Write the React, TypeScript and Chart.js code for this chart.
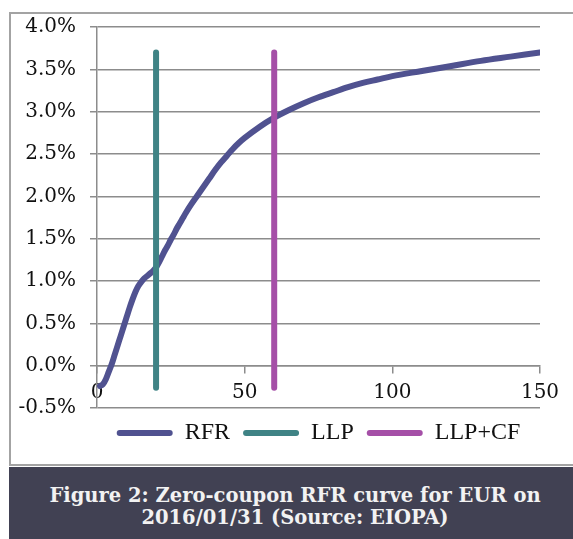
import { useEffect, useRef } from "react";
import { Chart, registerables } from "chart.js";

Chart.register(...registerables);

// maturity in years / zero-coupon rate in %
const rfrMaturities = [
  1, 2, 3, 4, 5, 6, 7, 8, 9, 10, 11, 12, 13, 14, 15, 16, 17, 18, 19, 20, 21, 22,
  23, 24, 25, 26, 27, 28, 29, 30, 32, 34, 36, 38, 40, 42, 44, 46, 48, 50, 55, 60,
  65, 70, 75, 80, 85, 90, 95, 100, 110, 120, 130, 140, 150,
];
const rfrRates = [
  -0.24, -0.22, -0.16, -0.07, 0.02, 0.13, 0.24, 0.35, 0.46, 0.57, 0.68, 0.78,
  0.87, 0.94, 0.99, 1.03, 1.06, 1.09, 1.12, 1.16, 1.22, 1.29, 1.36, 1.42, 1.49,
  1.55, 1.62, 1.68, 1.74, 1.8, 1.91, 2.01, 2.11, 2.21, 2.31, 2.4, 2.48, 2.56,
  2.63, 2.69, 2.82, 2.93, 3.02, 3.1, 3.17, 3.23, 3.29, 3.34, 3.38, 3.42, 3.48,
  3.54, 3.6, 3.65, 3.7,
];

const llpMaturity = [20, 20];
const llpRange = [-0.26, 3.7];
const cfMaturity = [60, 60];
const cfRange = [-0.26, 3.7];

const xTicks = [0, 50, 100, 150];
const yTicks = [-0.5, 0, 0.5, 1, 1.5, 2, 2.5, 3, 3.5, 4];

const gridColor = "#8c8c8c";
const tickFont = { family: "'DejaVu Serif', serif", size: 20 };

const toPoints = (xs: number[], ys: number[]) => xs.map((x, i) => ({ x, y: ys[i] }));

const CurveChart = () => {
  const chartRef = useRef<HTMLCanvasElement | null>(null);

  useEffect(() => {
    const ctx = chartRef.current!.getContext("2d")!;
    const chart = new Chart(ctx, {
      type: "scatter",
      data: {
        datasets: [
          {
            label: "RFR",
            data: toPoints(rfrMaturities, rfrRates),
            borderColor: "#505290",
            backgroundColor: "#505290",
            borderWidth: 6,
            showLine: true,
            pointRadius: 0,
            cubicInterpolationMode: "monotone",
            borderCapStyle: "round",
            borderJoinStyle: "round",
            order: 2,
          },
          {
            label: "LLP",
            data: toPoints(llpMaturity, llpRange),
            borderColor: "#3f8385",
            backgroundColor: "#3f8385",
            borderWidth: 6,
            showLine: true,
            pointRadius: 0,
            borderCapStyle: "round",
            order: 1,
          },
          {
            label: "LLP+CF",
            data: toPoints(cfMaturity, cfRange),
            borderColor: "#a54fa7",
            backgroundColor: "#a54fa7",
            borderWidth: 6,
            showLine: true,
            pointRadius: 0,
            borderCapStyle: "round",
            order: 0,
          },
        ],
      },
      options: {
        animation: false,
        responsive: true,
        maintainAspectRatio: false,
        layout: { padding: { top: 13, right: 33, bottom: 9, left: 0 } },
        scales: {
          x: {
            type: "linear",
            min: 0,
            max: 150,
            position: { y: 0 },
            afterBuildTicks: (scale) => {
              scale.ticks = xTicks.map((value) => ({ value }));
            },
            afterFit: (scale) => {
              scale.paddingTop = 0;
              scale.paddingBottom = 0;
            },
            grid: {
              drawOnChartArea: false,
              tickLength: 7,
              color: gridColor,
              lineWidth: 1.5,
            },
            border: { display: true, color: gridColor, width: 1.5 },
            ticks: {
              padding: 8,
              color: "#111",
              font: tickFont,
              maxRotation: 0,
              autoSkip: false,
            },
          },
          y: {
            type: "linear",
            min: -0.5,
            max: 4,
            afterBuildTicks: (scale) => {
              scale.ticks = yTicks.map((value) => ({ value }));
            },
            afterFit: (scale) => {
              scale.width = 86;
              scale.paddingTop = 12;
              scale.paddingBottom = 12;
            },
            grid: { color: gridColor, lineWidth: 1.5, tickLength: 7 },
            border: { display: true, color: gridColor, width: 1.5 },
            ticks: {
              padding: 14,
              color: "#111",
              font: tickFont,
              callback: (v) => Number(v).toFixed(1) + "%",
            },
          },
        },
        plugins: {
          tooltip: { enabled: false },
          legend: {
            position: "bottom",
            fullSize: false,
            labels: {
              boxWidth: 56,
              boxHeight: 6,
              padding: 13,
              color: "#111",
              font: { family: "'Liberation Serif', serif", size: 24 },
              sort: (a, b) => a.datasetIndex! - b.datasetIndex!,
              generateLabels: (c) =>
                Chart.defaults.plugins.legend.labels
                  .generateLabels(c)
                  .map((item) => ({
                    ...item,
                    fillStyle: item.strokeStyle,
                    lineWidth: 0,
                    borderRadius: 3,
                  })),
            },
          },
        },
      },
    });

    return () => {
      chart.destroy();
    };
  }, []);

  return (
    <div style={{ position: "absolute", left: 0, top: 0, width: 562, height: 450 }}>
      <canvas ref={chartRef} />
    </div>
  );
};

const App = () => {
  return (
    <div
      style={{
        position: "fixed",
        left: 0,
        top: 0,
        width: 573,
        height: 539,
        overflow: "hidden",
        background: "#fff",
      }}
    >
      <div
        style={{
          position: "absolute",
          left: 9,
          top: 12,
          width: 580,
          height: 454,
          border: "2px solid #a3a3a3",
          boxSizing: "border-box",
        }}
      >
        <CurveChart />
      </div>
      <div
        style={{
          position: "absolute",
          left: 9,
          top: 467,
          width: 572,
          height: 80,
          background: "#414153",
          color: "#f2f2f2",
          fontFamily: "'DejaVu Serif', serif",
          fontWeight: "bold",
          fontSize: 19.5,
          lineHeight: "22px",
          textAlign: "center",
          paddingTop: 18,
          boxSizing: "border-box",
        }}
      >
        Figure 2: Zero-coupon RFR curve for EUR on
        <br />
        2016/01/31 (Source: EIOPA)
      </div>
    </div>
  );
};

export default App;
